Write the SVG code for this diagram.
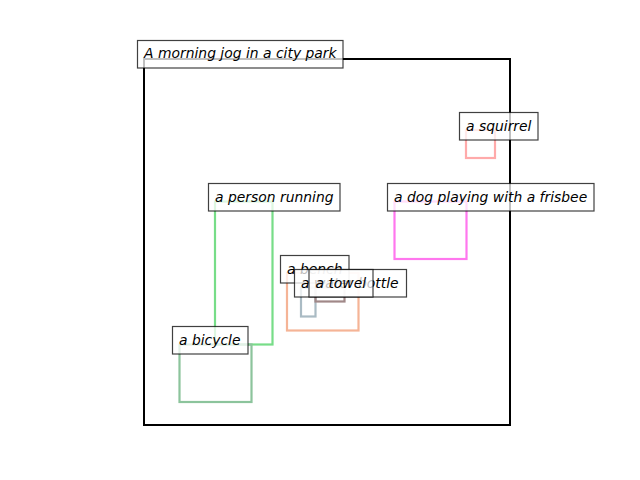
<svg xmlns="http://www.w3.org/2000/svg" width="640" height="480" viewBox="0 0 640 480">
<style>
.lbl rect{fill:#ffffff;fill-opacity:0.75;stroke:#000000;stroke-opacity:0.75;stroke-width:1.2}
.lbl text{font-family:"DejaVu Sans",sans-serif;font-style:oblique;font-size:13.9px;fill:#000000}
.box{fill:none;stroke-width:2.2;stroke-linejoin:miter}
</style>
<rect width="640" height="480" fill="#ffffff"/>
<g id="frame"><rect x="144" y="59" width="366" height="366" fill="none" stroke="#000000" stroke-width="2"/></g>
<g id="connectors"></g>
<g id="boxes">
<rect id="squirrel-box" class="box" x="466" y="130" width="29" height="28" stroke="#ffaaaa"/>
<rect id="dog-box" class="box" x="394.5" y="201.5" width="72" height="57.5" stroke="#ff77ee"/>
<rect id="person-box" class="box" x="215" y="201.5" width="57.5" height="143" stroke="#77dd88"/>
<rect id="bicycle-box" class="box" x="179.5" y="344.5" width="72" height="57.5" stroke="#8cc49c"/>
<rect id="bench-box" class="box" x="287" y="273" width="71.5" height="57.5" stroke="#f5b496"/>
<rect id="bottle-box" class="box" x="301" y="287.5" width="14.5" height="29" stroke="#aabbc4"/>
<rect id="towel-box" class="box" x="315.5" y="287.5" width="29" height="14" stroke="#a08888"/>
</g>
<g id="title" class="lbl"><rect x="137.5" y="40.5" width="205.5" height="27.5"/><text x="144" y="58">A morning jog in a city park</text></g>
<g id="squirrel" class="lbl"><rect x="459.5" y="112.5" width="78.5" height="27.5"/><text x="466" y="130.5">a squirrel</text></g>
<g id="dog" class="lbl"><rect x="387.5" y="183.5" width="206.5" height="27.5"/><text x="394" y="201.5">a dog playing with a frisbee</text></g>
<g id="person" class="lbl"><rect x="208.5" y="183.5" width="131.5" height="27.5"/><text x="215" y="201.5">a person running</text></g>
<g id="bicycle" class="lbl"><rect x="172.5" y="326.5" width="75.5" height="27.5"/><text x="179" y="344.5">a bicycle</text></g>
<g id="bench" class="lbl"><rect x="280.5" y="255.5" width="68.5" height="27.5"/><text x="287" y="273.5">a bench</text></g>
<g id="bottle" class="lbl"><rect x="294.5" y="269.5" width="112" height="27.5"/><text x="301" y="287.5">a water bottle</text></g>
<g id="towel" class="lbl"><rect x="309" y="269.5" width="64" height="27.5"/><text x="315.5" y="287.5">a towel</text></g>
</svg>
